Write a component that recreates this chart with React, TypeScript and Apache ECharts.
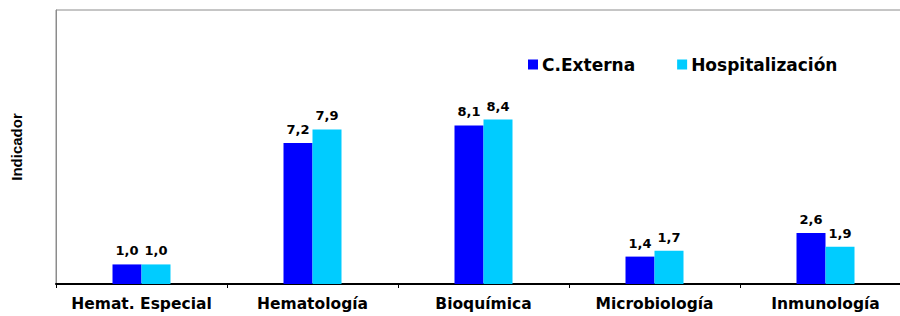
import React, { useEffect, useRef } from "react";
import * as echarts from "echarts";

const categories = ["Hemat. Especial", "Hematología", "Bioquímica", "Microbiología", "Inmunología"];
const externa = [1.0, 7.2, 8.1, 1.4, 2.6];
const hospital = [1.0, 7.9, 8.4, 1.7, 1.9];
const seriesNames = ["C.Externa", "Hospitalización"];

export default function App() {
  const ref = useRef<HTMLDivElement>(null);
  useEffect(() => {
    const chart = echarts.init(ref.current!, null, { renderer: "svg" });
    const labelStyle = {
      show: true,
      position: "top" as const,
      distance: 7,
      fontFamily: "DejaVu Sans",
      fontWeight: "bold" as const,
      fontSize: 13,
      color: "#000",
      formatter: (p: any) => p.value.toFixed(1).replace(".", ","),
    };
    chart.setOption({
      animation: false,
      backgroundColor: "#fff",
      grid: {
        left: 56,
        width: 855,
        top: 10,
        bottom: 32,
        outerBoundsMode: "none",
        containLabel: false,
        show: true,
        borderColor: "#8c8c8c",
        borderWidth: 1,
      },
      legend: {
        data: seriesNames,
        top: 51,
        left: 523,
        itemWidth: 10,
        itemHeight: 10,
        itemGap: 42,
        icon: "rect",
        textStyle: {
          fontFamily: "DejaVu Sans",
          fontWeight: "bold",
          fontSize: 17,
          color: "#000",
          padding: [0, 0, 0, -1],
        },
      },
      xAxis: {
        type: "category",
        data: categories,
        axisLine: { lineStyle: { color: "#000", width: 2 } },
        axisTick: { show: true, length: 4, lineStyle: { color: "#000" } },
        axisLabel: {
          margin: 12,
          fontFamily: "DejaVu Sans",
          fontWeight: "bold",
          fontSize: 15.5,
          color: "#000",
          interval: 0,
        },
      },
      yAxis: {
        type: "value",
        min: 0,
        max: 14,
        name: "Indicador",
        nameLocation: "middle",
        nameGap: 32,
        nameRotate: 90,
        nameTextStyle: {
          fontFamily: "Liberation Sans",
          fontWeight: "bold",
          fontSize: 15,
          color: "#000",
        },
        axisLine: { show: true, lineStyle: { color: "#8c8c8c", width: 1 } },
        axisTick: { show: false },
        axisLabel: { show: false },
        splitLine: { show: false },
      },
      series: [
        {
          name: seriesNames[0],
          type: "bar",
          data: externa,
          barWidth: 29,
          barGap: "0%",
          itemStyle: { color: "#0000FF" },
          label: labelStyle,
        },
        {
          name: seriesNames[1],
          type: "bar",
          data: hospital,
          barWidth: 29,
          barGap: "0%",
          itemStyle: { color: "#00CCFF" },
          label: labelStyle,
        },
      ],
    });
    return () => chart.dispose();
  }, []);
  return <div ref={ref} style={{ width: 900, height: 316, position: "fixed", left: 0, top: 0 }} />;
}
